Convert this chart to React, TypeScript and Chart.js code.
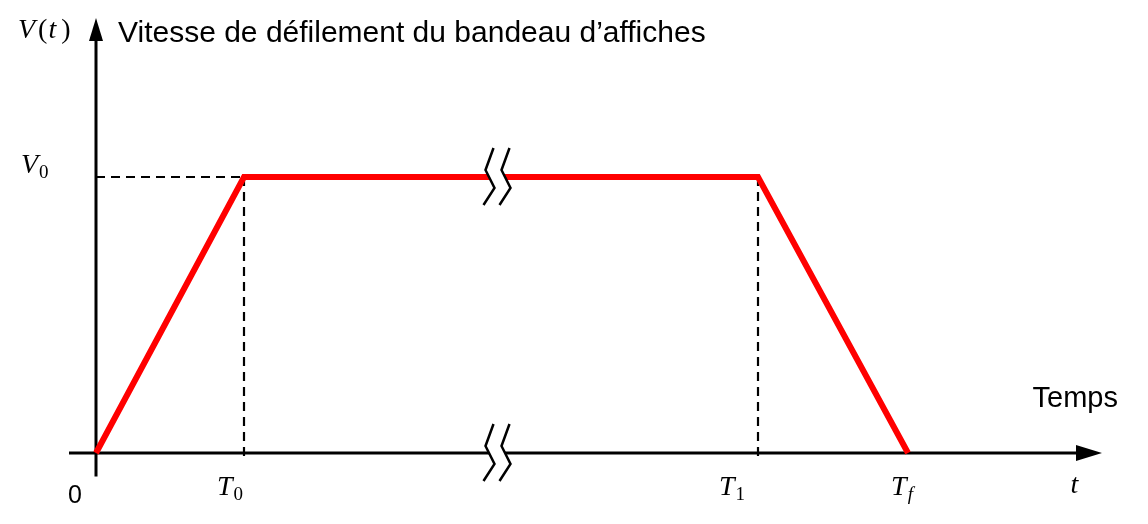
import React, { useEffect, useRef } from "react";
import { Chart, registerables } from "chart.js";

Chart.register(...registerables);

// ---- data ----
const timeLabels = ["T0", "T1", "Tf"];
const timeTicks = [1.48, 6.62, 8.12];
const profileTimes = [0, 1.48, 6.62, 8.12];
const profileSpeeds = [0, 1, 1, 0];
const speedLevel = 1; // V0
const breakTimes = [3.93, 4.09];

const X_MIN = -0.3;
const X_MAX = 10.06;
const Y_MIN = -0.1;
const Y_MAX = 1.5833;

const SANS = '"Liberation Sans", Arial, sans-serif';
const SERIF = '"Liberation Serif", "DejaVu Serif", serif';

type Part = { t: string; it?: boolean; sub?: boolean; gap?: number };

function mathWidth(ctx: CanvasRenderingContext2D, parts: Part[], size: number, subSize: number) {
  let w = 0;
  for (const p of parts) {
    ctx.font = `${p.it ? "italic " : ""}${p.sub ? subSize : size}px ${SERIF}`;
    w += ctx.measureText(p.t).width + (p.gap ?? (p.it && !p.sub ? 1 : 0));
  }
  return w;
}

function drawMath(
  ctx: CanvasRenderingContext2D,
  parts: Part[],
  x: number,
  y: number,
  align: "left" | "center" | "right",
  size = 27,
  subSize = 19
) {
  const w = mathWidth(ctx, parts, size, subSize);
  let cx = align === "left" ? x : align === "center" ? x - w / 2 : x - w;
  ctx.textAlign = "left";
  ctx.textBaseline = "alphabetic";
  ctx.fillStyle = "#000";
  for (const p of parts) {
    ctx.font = `${p.it ? "italic " : ""}${p.sub ? subSize : size}px ${SERIF}`;
    ctx.fillText(p.t, cx, p.sub ? y + 5 : y);
    cx += ctx.measureText(p.t).width + (p.gap ?? (p.it && !p.sub ? 1 : 0));
  }
}

const labelParts: Record<string, Part[]> = {
  T0: [{ t: "T", it: true }, { t: "0", sub: true }],
  T1: [{ t: "T", it: true }, { t: "1", sub: true }],
  Tf: [{ t: "T", it: true }, { t: "f", it: true, sub: true }],
};
const labelShift = [-14, -26, -6];

const diagramPlugin = {
  id: "diagram",
  beforeDatasetsDraw(chart: any) {
    const { ctx, chartArea, scales } = chart;
    const xs = scales.x;
    const ys = scales.y;
    const x0 = xs.getPixelForValue(0);
    const y0 = ys.getPixelForValue(0);
    ctx.save();
    ctx.strokeStyle = "#000";
    ctx.fillStyle = "#000";
    ctx.lineWidth = 3;
    // x axis
    ctx.beginPath();
    ctx.moveTo(chartArea.left + 3, y0);
    ctx.lineTo(chartArea.right - 20, y0);
    ctx.stroke();
    ctx.beginPath();
    ctx.moveTo(chartArea.right, y0);
    ctx.lineTo(chartArea.right - 26, y0 - 8);
    ctx.lineTo(chartArea.right - 26, y0 + 8);
    ctx.closePath();
    ctx.fill();
    // y axis
    ctx.beginPath();
    ctx.moveTo(x0, chartArea.bottom - 4);
    ctx.lineTo(x0, chartArea.top + 20);
    ctx.stroke();
    ctx.beginPath();
    ctx.moveTo(x0, chartArea.top + 2);
    ctx.lineTo(x0 - 7, chartArea.top + 25);
    ctx.lineTo(x0 + 7, chartArea.top + 25);
    ctx.closePath();
    ctx.fill();
    ctx.restore();
  },
  afterDatasetsDraw(chart: any) {
    const { ctx, scales } = chart;
    const xs = scales.x;
    const ys = scales.y;
    ctx.save();
    // axis breaks
    const zig = [
      [4.5, -29],
      [-3.5, -7],
      [5.5, 11],
      [-5.5, 28],
    ];
    for (const level of [speedLevel, 0]) {
      const cy = ys.getPixelForValue(level);
      const a = xs.getPixelForValue(breakTimes[0]);
      const b = xs.getPixelForValue(breakTimes[1]);
      ctx.fillStyle = "#fff";
      ctx.beginPath();
      zig.forEach(([dx, dy], i) => (i ? ctx.lineTo(a + dx, cy + dy) : ctx.moveTo(a + dx, cy + dy)));
      [...zig].reverse().forEach(([dx, dy]) => ctx.lineTo(b + dx, cy + dy));
      ctx.closePath();
      ctx.fill();
      ctx.strokeStyle = "#000";
      ctx.lineWidth = 2.5;
      ctx.lineJoin = "miter";
      for (const c of [a, b]) {
        ctx.beginPath();
        zig.forEach(([dx, dy], i) => (i ? ctx.lineTo(c + dx, cy + dy) : ctx.moveTo(c + dx, cy + dy)));
        ctx.stroke();
      }
    }
    // texts
    ctx.fillStyle = "#000";
    ctx.textBaseline = "alphabetic";
    ctx.textAlign = "left";
    ctx.font = `30px ${SANS}`;
    ctx.fillText("Vitesse de défilement du bandeau d’affiches", 118, 42);
    ctx.textAlign = "right";
    ctx.font = `29px ${SANS}`;
    ctx.fillText("Temps", 1118, 407);
    ctx.textAlign = "center";
    ctx.font = `25px ${SANS}`;
    const x0 = xs.getPixelForValue(0);
    const y0 = ys.getPixelForValue(0);
    ctx.fillText("0", x0 - 21, y0 + 50);

    drawMath(
      ctx,
      [{ t: "V", it: true, gap: 3 }, { t: "(", gap: 1 }, { t: "t", it: true, gap: 5 }, { t: ")" }],
      18,
      38,
      "left",
      28
    );
    drawMath(ctx, [{ t: "V", it: true }, { t: "0", sub: true }], 21, ys.getPixelForValue(speedLevel) - 4, "left", 28);
    timeLabels.forEach((lab, i) => {
      drawMath(ctx, labelParts[lab], xs.getPixelForValue(timeTicks[i]) + labelShift[i], y0 + 42, "center", 28);
    });
    drawMath(ctx, [{ t: "t", it: true }], 1075, y0 + 40, "center", 28);
    ctx.restore();
  },
};

export default function App() {
  const ref = useRef<HTMLCanvasElement>(null);
  useEffect(() => {
    if (!ref.current) return;
    const red = profileTimes.map((t, i) => ({ x: t, y: profileSpeeds[i] }));
    const dashStyle = {
      borderColor: "#000",
      borderWidth: 2.2,
      borderDash: [9, 6],
      pointRadius: 0,
      fill: false,
      tension: 0,
    };
    const chart = new Chart(ref.current, {
      type: "line",
      data: {
        datasets: [
          {
            data: red,
            borderColor: "#ff0000",
            borderWidth: 6,
            pointRadius: 0,
            fill: false,
            tension: 0,
            borderJoinStyle: "miter",
          } as any,
          { ...dashStyle, data: [{ x: 0, y: speedLevel }, { x: timeTicks[0], y: speedLevel }] },
          { ...dashStyle, data: [{ x: timeTicks[0], y: speedLevel }, { x: timeTicks[0], y: -0.03 }] },
          { ...dashStyle, data: [{ x: timeTicks[1], y: speedLevel }, { x: timeTicks[1], y: -0.03 }] },
        ],
      },
      options: {
        animation: false,
        responsive: false,
        parsing: true,
        layout: { padding: { left: 66, right: 46, top: 16, bottom: 43.4 } },
        scales: {
          x: { type: "linear", min: X_MIN, max: X_MAX, display: false },
          y: { type: "linear", min: Y_MIN, max: Y_MAX, display: false },
        },
        plugins: { legend: { display: false }, tooltip: { enabled: false } },
      },
      plugins: [diagramPlugin],
    });
    return () => chart.destroy();
  }, []);
  return (
    <div style={{ position: "fixed", left: 0, top: 0, width: 1148, height: 524, background: "#fff" }}>
      <canvas ref={ref} width={1148} height={524} style={{ width: 1148, height: 524 }} />
    </div>
  );
}
